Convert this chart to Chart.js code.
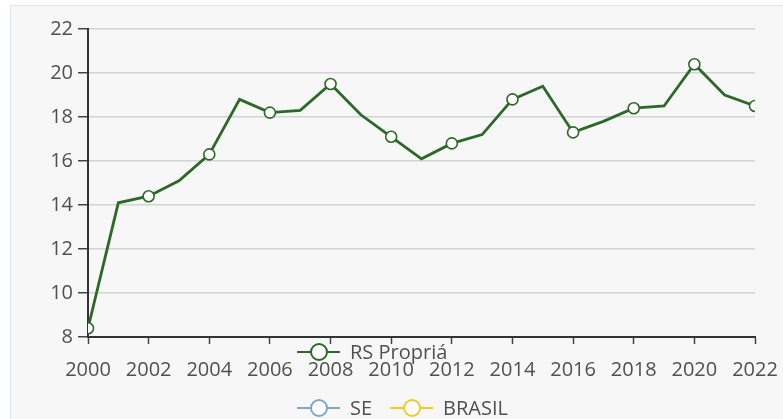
<!DOCTYPE html>
<html>
<head>
<meta charset="utf-8">
<script src="https://cdn.jsdelivr.net/npm/chart.js@4/dist/chart.umd.min.js"></script>
<style>
  html, body { margin: 0; padding: 0; background: #ffffff; overflow: hidden; width: 783px; height: 419px; }
  #frame { position: absolute; left: 10px; top: 5px; width: 800px; height: 440px; border: 1px solid #dae6f3; background: #f7f7f7; }
  #holder { position: absolute; left: 11px; top: 6px; width: 772px; height: 413px; }
</style>
</head>
<body>
<div id="frame"></div>
<div id="holder"><canvas id="c"></canvas></div>
<script>
// ---- data ----
const years = [2000,2001,2002,2003,2004,2005,2006,2007,2008,2009,2010,2011,2012,2013,2014,2015,2016,2017,2018,2019,2020,2021,2022];
const rsPropria = [8.4,14.1,14.4,15.1,16.3,18.8,18.2,18.3,19.5,18.1,17.1,16.1,16.8,17.2,18.8,19.4,17.3,17.8,18.4,18.5,20.4,19.0,18.5];
const seValues = [];
const brasilValues = [];
const seriesNames = ['RS Propriá', 'SE', 'BRASIL'];
const yTicks = [8,10,12,14,16,18,20,22];
const xTicks = [2000,2002,2004,2006,2008,2010,2012,2014,2016,2018,2020,2022];

const FONT = "'Open Sans', 'Noto Sans', sans-serif";
const TEXT = '#505050';

const toXY = (vals) => vals.map((v, i) => ({ x: years[i], y: v }));

const legendPlugin = {
  id: 'customLegend',
  afterDraw(chart) {
    const ctx = chart.ctx;
    const rows = [[0], [1, 2]];
    const rowY = [346, 402];
    const startX = 286;
    ctx.save();
    ctx.font = "20px " + FONT;
    ctx.textBaseline = 'middle';
    ctx.textAlign = 'left';
    rows.forEach((row, r) => {
      let x = startX;
      const y = rowY[r];
      row.forEach(di => {
        const ds = chart.data.datasets[di];
        ctx.strokeStyle = ds.borderColor;
        ctx.lineWidth = 2;
        ctx.beginPath();
        ctx.moveTo(x, y);
        ctx.lineTo(x + 43, y);
        ctx.stroke();
        ctx.beginPath();
        ctx.arc(x + 22, y, 8, 0, Math.PI * 2);
        ctx.fillStyle = '#ffffff';
        ctx.fill();
        ctx.stroke();
        ctx.fillStyle = TEXT;
        ctx.fillText(ds.label, x + 53, y + 1);
        x += 53 + ctx.measureText(ds.label).width + 18;
      });
    });
    ctx.restore();
  }
};

new Chart(document.getElementById('c'), {
  type: 'line',
  data: {
    datasets: [
      {
        label: seriesNames[0],
        data: toXY(rsPropria),
        borderColor: '#2c6928',
        backgroundColor: '#ffffff',
        borderWidth: 2.8,
        tension: 0,
        pointRadius: (c) => (c.dataIndex % 2 === 0 ? 5.5 : 0),
        pointHoverRadius: (c) => (c.dataIndex % 2 === 0 ? 5.5 : 0),
        pointBackgroundColor: '#ffffff',
        pointBorderColor: '#2c6928',
        pointBorderWidth: 1.6
      },
      { label: seriesNames[1], data: toXY(seValues), borderColor: '#7ea6cb', backgroundColor: '#ffffff' },
      { label: seriesNames[2], data: toXY(brasilValues), borderColor: '#f5c928', backgroundColor: '#ffffff' }
    ]
  },
  options: {
    responsive: true,
    maintainAspectRatio: false,
    animation: false,
    layout: { padding: { left: 0, top: 23, right: 28, bottom: 42 } },
    plugins: { legend: { display: false }, tooltip: { enabled: false } },
    scales: {
      x: {
        type: 'linear',
        min: years[0],
        max: years[years.length - 1],
        afterFit: (s) => { s.height = 40; s.paddingLeft = 0; s.paddingRight = 0; },
        afterBuildTicks: (s) => { s.ticks = xTicks.map(v => ({ value: v })); },
        grid: { drawOnChartArea: false, drawTicks: true, tickLength: 7, tickColor: '#444444', tickWidth: 1.5 },
        border: { display: true, color: '#333333', width: 2 },
        ticks: { color: TEXT, font: { family: FONT, size: 20 }, padding: 14, maxRotation: 0, autoSkip: false, callback: (v) => String(v) }
      },
      y: {
        min: yTicks[0],
        max: yTicks[yTicks.length - 1],
        afterFit: (s) => { s.width = 77; s.paddingTop = 0; s.paddingBottom = 0; },
        afterBuildTicks: (s) => { s.ticks = yTicks.map(v => ({ value: v })); },
        grid: { color: '#d4d4d4', lineWidth: 1.5, drawTicks: true, tickLength: 10, tickColor: '#444444', tickWidth: 1.5 },
        border: { display: true, color: '#333333', width: 2 },
        ticks: { color: TEXT, font: { family: FONT, size: 20 }, padding: 5, callback: (v) => String(v) }
      }
    }
  },
  plugins: [legendPlugin]
});
</script>
</body>
</html>
